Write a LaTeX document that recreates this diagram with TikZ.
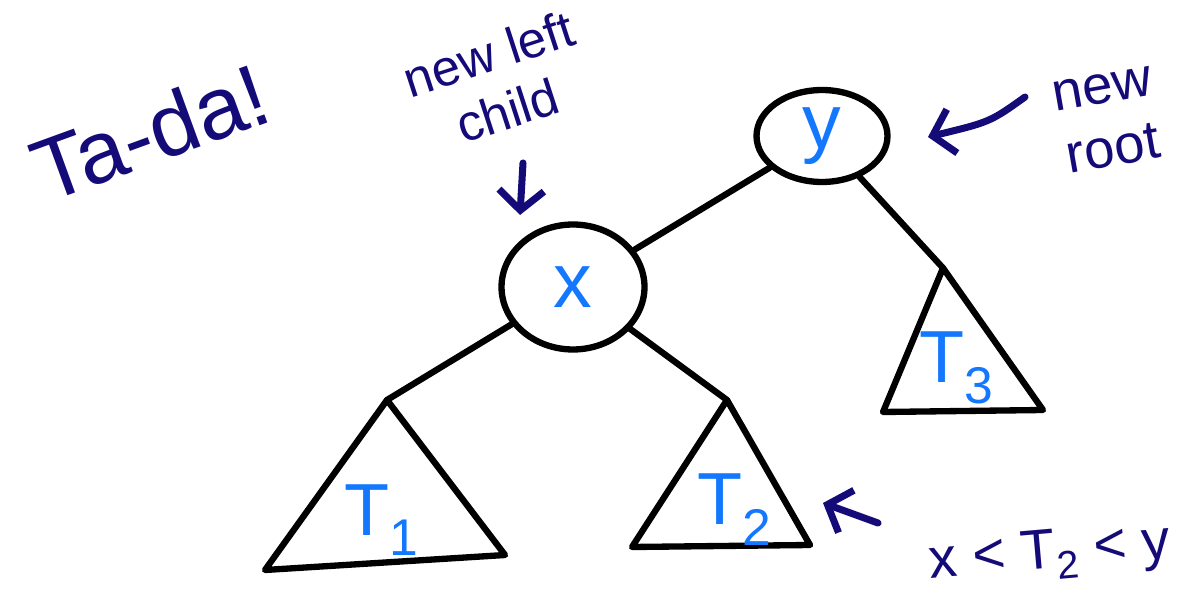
\documentclass[tikz,border=0pt]{standalone}
\usepackage{fontspec}
\setmainfont{Liberation Sans}
\usetikzlibrary{arrows.meta,shapes.geometric}
\definecolor{ink}{RGB}{20,10,120}
\definecolor{keyblue}{RGB}{20,120,255}
\tikzset{key/.style={draw, ellipse, line width=3.6pt, inner sep=0pt, text=keyblue, font=\fontsize{44}{44}\selectfont},
  edge/.style={line width=3.6pt, line cap=round},
  subtree/.style={line width=3.6pt, line join=round},
  tname/.style={text=keyblue, font=\fontsize{42}{42}\selectfont},
  note/.style={text=ink, align=center},
  pointer/.style={draw=ink, line width=4pt, line cap=round, -{Straight Barb[length=4mm,width=9mm]}}}

\begin{document}
\begin{tikzpicture}[x=0.02cm, y=-0.02cm]
  \useasboundingbox (0,0) rectangle (1189,607);
  % keys
  \node[key, minimum width=2.62cm, minimum height=1.84cm] (y) at (822,136) {y};
  \node[key, minimum width=2.86cm, minimum height=2.5cm] (x) at (573,287) {x};
  % subtree tops
  \coordinate (a1) at (387,400);
  \coordinate (a2) at (727,400);
  \coordinate (a3) at (943,268);
  % subtrees
  \draw[subtree] (a1) -- (265,570) -- (505,555) -- cycle;
  \draw[subtree] (a2) -- (632,547) -- (810,545) -- cycle;
  \draw[subtree] (a3) -- (883,412) -- (1043,410) -- cycle;
  \node[tname] (t1) at (382,520) {T\textsubscript{1}};
  \node[tname] (t2) at (735,510) {T\textsubscript{2}};
  \node[tname] (t3) at (957,368) {T\textsubscript{3}};
  % tree edges
  \draw[edge] (y) -- (x);
  \draw[edge] (x) -- (a1);
  \draw[edge] (x) -- (a2);
  \draw[edge] (y) -- (a3);
  % notes
  \node[note, rotate=20, font=\fontsize{50}{50}\selectfont] (tada) at (150,132) {Ta-da!};
  \node[note, rotate=18, font=\fontsize{29}{34}\selectfont] (leftnote) at (498,82) {new left\\child};
  \node[note, rotate=10, font=\fontsize{31}{36}\selectfont] (rootnote) at (1108,120) {new\\root};
  \node[note, rotate=5, font=\fontsize{32}{32}\selectfont] (order) at (1050,555) {x < T\textsubscript{2} < y};
  % pointers
  \coordinate (s1) at (523,163);
  \coordinate (e1) at (520,215);
  \coordinate (s2) at (1025,97);
  \coordinate (e2) at (928,137);
  \coordinate (s3) at (878,523);
  \coordinate (e3) at (823,503);
  \draw[pointer] (s1) -- (e1);
  \draw[pointer] (s2) .. controls (990,122) .. (e2);
  \draw[pointer] (s3) -- (e3);
\end{tikzpicture}
\end{document}
